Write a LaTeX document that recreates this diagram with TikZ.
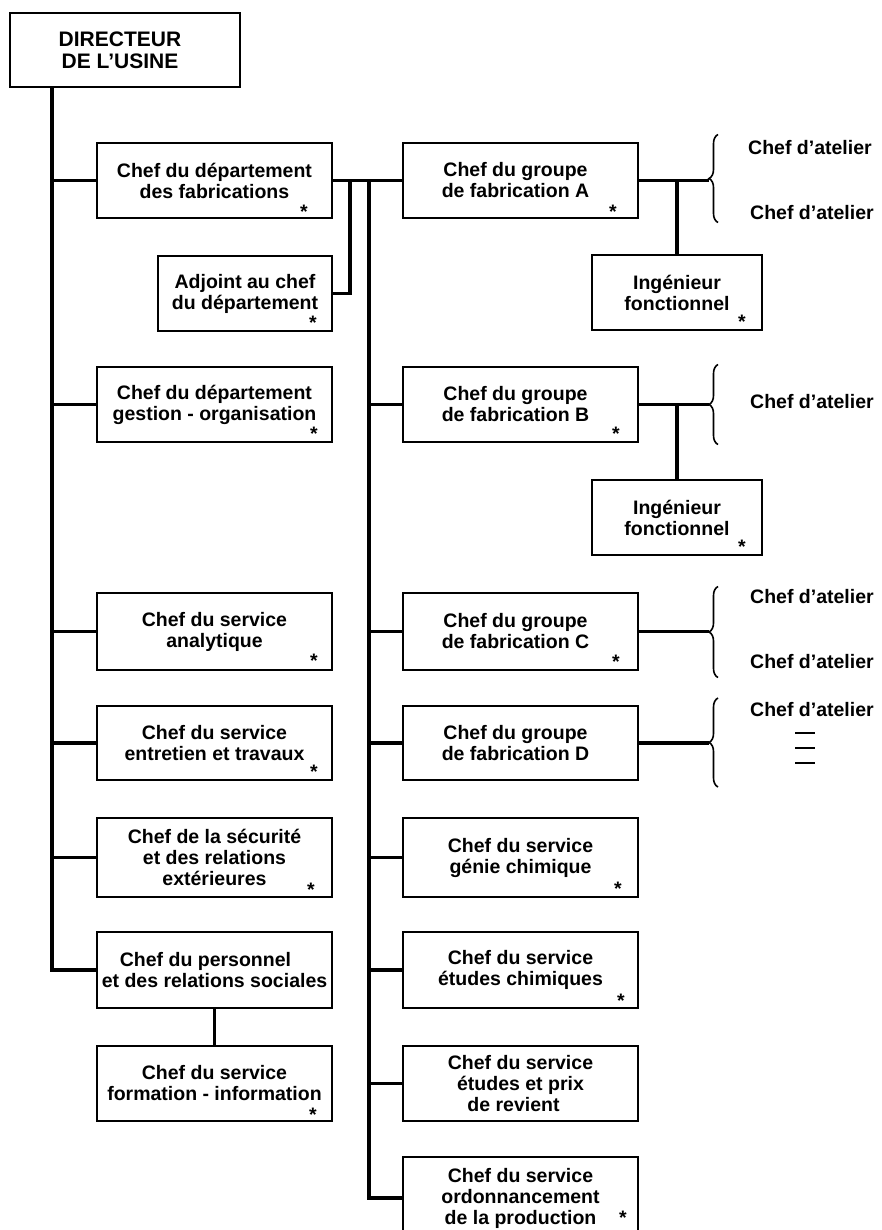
\documentclass[tikz,border=0pt]{standalone}
\usepackage{fontspec}
\setmainfont{Liberation Sans}
\usetikzlibrary{calc,decorations.pathreplacing}

\begin{document}
\begin{tikzpicture}[x=1pt,y=-1pt,
  every node/.style={font=\fontsize{19.5}{21}\selectfont\bfseries},
  box/.style={draw, line width=2pt, align=center, inner sep=0pt, minimum height=75pt},
  lbox/.style={box, minimum width=235pt},
  ibox/.style={box, minimum width=170pt},
  conn/.style={line width=3.6pt},
  ast/.style={inner sep=0pt, yshift=-4pt},
  brc/.style={decorate, decoration={brace, amplitude=9pt}, line width=1.6pt},
  atel/.style={anchor=west, inner sep=0pt},
  dashm/.style={line width=2.8pt},
]
\useasboundingbox (0,0) rectangle (881,1230);
\fill[white] (0,0) rectangle (881,1230);
\clip (0,0) rectangle (881,1230);

% ---- top of the hierarchy
\node[box, minimum width=230pt, minimum height=74pt, font=\fontsize{21}{22}\selectfont\bfseries] (dir) at (125,50) {DIRECTEUR\kern10pt\\DE L’USINE\kern10pt};

% ---- left column
\node[lbox] (fab)  at (214.5,180.5) {Chef du département\\des fabrications};
\node[box, minimum width=174pt] (adj) at (245,293.5) {Adjoint au chef\\du département};
\node[lbox] (gest) at (214.5,404.5) {Chef du département\\gestion - organisation};
\node[lbox, minimum height=77pt] (anal) at (214.5,631.5) {Chef du service\\analytique};
\node[lbox, minimum height=74pt] (entr) at (214.5,743) {Chef du service\\entretien et travaux};
\node[lbox, minimum height=79pt] (secu) at (214.5,857.5) {Chef de la sécurité\\et des relations\\extérieures};
\node[lbox, minimum height=76pt] (pers) at (214.5,970) {Chef du personnel\kern18pt\\et des relations sociales};
\node[lbox] (form) at (214.5,1083.5) {Chef du service\\formation - information};

% ---- right column
\node[lbox] (gA) at (520.5,180.5) {Chef du groupe\kern10pt\\de fabrication A\kern10pt};
\node[ibox] (ingA) at (677,292.5) {Ingénieur\\fonctionnel};
\node[lbox] (gB) at (520.5,404.5) {Chef du groupe\kern10pt\\de fabrication B\kern10pt};
\node[ibox] (ingB) at (677,517.5) {Ingénieur\\fonctionnel};
\node[lbox, minimum height=77pt] (gC) at (520.5,631.5) {Chef du groupe\kern10pt\\de fabrication C\kern10pt};
\node[lbox, minimum height=74pt] (gD) at (520.5,743) {Chef du groupe\kern10pt\\de fabrication D\kern10pt};
\node[lbox, minimum height=79pt] (genie) at (520.5,857.5) {Chef du service\\génie chimique};
\node[lbox, minimum height=76pt] (etch) at (520.5,970) {Chef du service\\études chimiques};
\node[lbox] (prix) at (520.5,1083.5) {Chef du service\\études et prix\\de revient\kern14pt};
\node[lbox, minimum height=82pt] (ordo) at (520.5,1198) {Chef du service\\ordonnancement\\de la production};

% ---- spines
\coordinate (L) at (52,0);
\coordinate (R) at (369,0);
\coordinate (J) at (350,0);
\draw[conn] (dir.south -| L) |- (pers.west);
\foreach \n in {fab,gest,anal,entr,secu}
  \draw[conn] (\n.west -| L) -- (\n.west);
\draw[conn] (fab.east) -- (gA.west);
\draw[conn] (adj.east) -| (J |- fab.east);
\draw[conn] (R |- gA.west) |- (ordo.west);
\foreach \n in {gB,gC,gD,genie,etch,prix}
  \draw[conn] (\n.west -| R) -- (\n.west);
\draw[conn] (pers.south) -- (form.north);

% ---- staff engineers
\draw[conn] (ingA.north) -- (ingA.north |- gA.east);
\draw[conn] (ingB.north) -- (ingB.north |- gB.east);

% ---- braces towards the workshop heads
\coordinate (bA) at (709,180.5);
\coordinate (bB) at (709,404.5);
\coordinate (bC) at (709,631.5);
\coordinate (bD) at (709,743);
\draw[conn] (gA.east) -- (bA);
\draw[conn] (gB.east) -- (bB);
\draw[conn] (gC.east) -- (bC);
\draw[conn] (gD.east) -- (bD);
\draw[brc] ($(bA)+(9,42)$) -- ($(bA)+(9,-46)$);
\draw[brc] ($(bB)+(9,40)$) -- ($(bB)+(9,-40)$);
\draw[brc] ($(bC)+(9,46)$) -- ($(bC)+(9,-45)$);
\draw[brc] ($(bD)+(9,44)$) -- ($(bD)+(9,-45)$);

\node[atel] (a1) at (748,148) {Chef d’atelier};
\node[atel] (a2) at (750,213) {Chef d’atelier};
\node[atel] (a3) at (750,402) {Chef d’atelier};
\node[atel] (a4) at (750,597) {Chef d’atelier};
\node[atel] (a5) at (750,662) {Chef d’atelier};
\node[atel] (a6) at (750,710) {Chef d’atelier};
\foreach \dy in {23,38,53}
  \draw[dashm] ($(a6.west)+(45,\dy)$) -- ++(20,0);

% ---- asterisks
\foreach \nm/\px/\py in {s1/304/208, s2/313/319, s3/314/430, s4/314/657, s5/314/768,
    s6/311/886, s7/313/1111, s8/613/208, s9/742/318, s10/616/430, s11/742/543,
    s12/616/658, s13/618/885, s14/621/997, s15/623/1214}
  \node[ast] (\nm) at (\px,\py) {*};
\end{tikzpicture}
\end{document}
